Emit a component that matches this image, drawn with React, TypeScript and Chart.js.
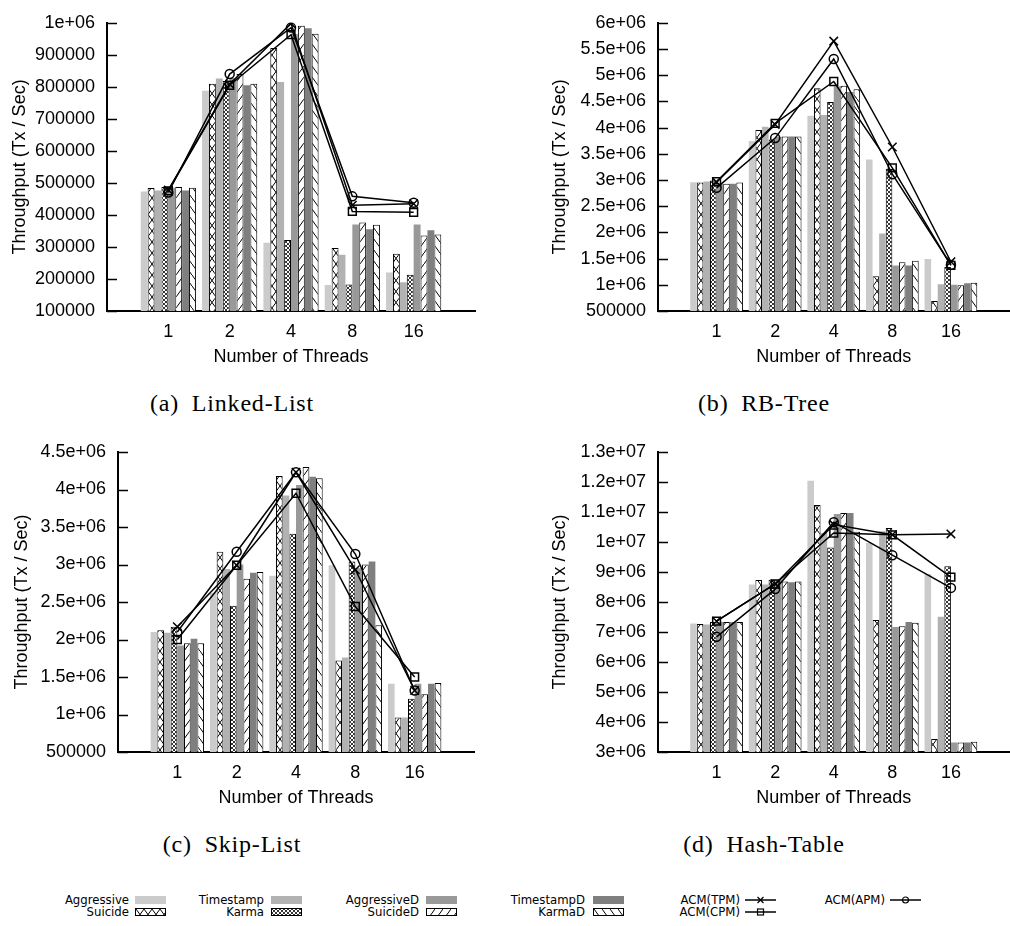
import React, { useEffect, useRef } from 'react';
import { Chart, registerables } from 'chart.js';
Chart.register(...registerables);

const FONT = "'Liberation Sans', Arial, Helvetica, sans-serif";
const NARROW = "'Liberation Sans Narrow', 'DejaVu Sans Condensed', 'Liberation Sans', sans-serif";
const SERIF = "'Liberation Serif', 'Times New Roman', serif";

const threadLabels = ['1', '2', '4', '8', '16'];
const threadIndex = [0, 1, 2, 3, 4];

const seriesNames = ['Aggressive', 'Suicide', 'Timestamp', 'Karma', 'AggressiveD', 'SuicideD', 'TimestampD', 'KarmaD'];
const lineNames = ['ACM(TPM)', 'ACM(CPM)', 'ACM(APM)'];

// (a) Linked-List
const llAggressive = [473000, 788000, 313000, 181000, 220000];
const llSuicide = [484000, 810000, 921000, 297000, 279000];
const llTimestamp = [476000, 826000, 815000, 276000, 190000];
const llKarma = [487000, 818000, 322000, 183000, 213000];
const llAggressiveD = [485000, 828000, 965000, 370000, 370000];
const llSuicideD = [487000, 840000, 991000, 376000, 336000];
const llTimestampD = [476000, 805000, 983000, 355000, 352000];
const llKarmaD = [485000, 810000, 966000, 369000, 339000];
const llTPM = [478000, 808000, 998000, 430000, 435000];
const llCPM = [475000, 805000, 963000, 411000, 408000];
const llAPM = [470000, 840000, 985000, 458000, 438000];
const llTicks = [100000, 200000, 300000, 400000, 500000, 600000, 700000, 800000, 900000, 1000000];

// (b) RB-Tree
const rbAggressive = [2958000, 3742000, 4225000, 3390000, 1490000];
const rbSuicide = [2950000, 3956000, 4750000, 1165000, 690000];
const rbTimestamp = [2970000, 4017000, 4240000, 1980000, 1010000];
const rbKarma = [2990000, 3772000, 4490000, 3215000, 1340000];
const rbAggressiveD = [2930000, 3827000, 4790000, 1370000, 1000000];
const rbSuicideD = [2930000, 3830000, 4800000, 1430000, 990000];
const rbTimestampD = [2930000, 3830000, 4680000, 1370000, 1030000];
const rbKarmaD = [2950000, 3830000, 4730000, 1460000, 1040000];
const rbTPM = [2960000, 4060000, 5650000, 3630000, 1440000];
const rbCPM = [2970000, 4080000, 4880000, 3230000, 1370000];
const rbAPM = [2850000, 3800000, 5310000, 3110000, 1380000];
const rbTicks = [500000, 1000000, 1500000, 2000000, 2500000, 3000000, 3500000, 4000000, 4500000, 5000000, 5500000, 6000000];

// (c) Skip-List
const slAggressive = [2100000, 2620000, 2850000, 2990000, 1410000];
const slSuicide = [2125000, 3170000, 4180000, 1720000, 960000];
const slTimestamp = [2090000, 2940000, 3920000, 1760000, 960000];
const slKarma = [2170000, 2450000, 3410000, 3040000, 1210000];
const slAggressiveD = [1920000, 3000000, 4060000, 2950000, 1410000];
const slSuicideD = [1950000, 2810000, 4300000, 3000000, 1270000];
const slTimestampD = [2010000, 2890000, 4170000, 3040000, 1410000];
const slKarmaD = [1950000, 2900000, 4150000, 2190000, 1420000];
const slTPM = [2170000, 2990000, 4230000, 2930000, 1320000];
const slCPM = [2000000, 2990000, 3950000, 2440000, 1500000];
const slAPM = [2100000, 3170000, 4230000, 3140000, 1320000];
const slTicks = [500000, 1000000, 1500000, 2000000, 2500000, 3000000, 3500000, 4000000, 4500000];

// (d) Hash-Table
const htAggressive = [7280000, 8580000, 12040000, 9970000, 8930000];
const htSuicide = [7270000, 8730000, 11230000, 7400000, 3430000];
const htTimestamp = [7250000, 8580000, 10300000, 10360000, 7510000];
const htKarma = [7330000, 8740000, 9820000, 10470000, 9190000];
const htAggressiveD = [7330000, 8740000, 10930000, 7170000, 3320000];
const htSuicideD = [7330000, 8680000, 10970000, 7190000, 3320000];
const htTimestampD = [7330000, 8660000, 10970000, 7330000, 3320000];
const htKarmaD = [7330000, 8680000, 10340000, 7310000, 3340000];
const htTPM = [7360000, 8600000, 10580000, 10240000, 10270000];
const htCPM = [7360000, 8600000, 10300000, 10240000, 8830000];
const htAPM = [6840000, 8430000, 10660000, 9560000, 8470000];
const htTicks = [3000000, 4000000, 5000000, 6000000, 7000000, 8000000, 9000000, 10000000, 11000000, 12000000, 13000000];

type Kind = { fill?: string; pattern?: string };
const barKinds: Kind[] = [
  { fill: '#cbcbcb' },
  { pattern: 'suicide' },
  { fill: '#b2b2b2' },
  { pattern: 'karma' },
  { fill: '#999999' },
  { pattern: 'slash' },
  { fill: '#7f7f7f' },
  { pattern: 'backslash' },
];
const lineMarkers = ['crossRot', 'rect', 'circle'];
const lineRadii = [6, 5.5, 4.5];

function makeTile(kind: string): HTMLCanvasElement {
  const c = document.createElement('canvas');
  let w = 8, h = 11;
  if (kind === 'karma') { w = 4; h = 4; }
  c.width = w; c.height = h;
  const g = c.getContext('2d')!;
  g.fillStyle = '#fff';
  g.fillRect(0, 0, w, h);
  g.strokeStyle = '#000';
  g.lineWidth = kind === 'karma' ? 0.8 : 1;
  g.beginPath();
  if (kind === 'suicide' || kind === 'karma') {
    g.moveTo(0, 0); g.lineTo(w, h); g.moveTo(w, 0); g.lineTo(0, h);
  } else if (kind === 'slash') {
    g.moveTo(0, h); g.lineTo(w, 0);
  } else {
    g.moveTo(0, 0); g.lineTo(w, h);
  }
  g.stroke();
  return c;
}

const tileCache: Record<string, HTMLCanvasElement> = {};
function tile(kind: string) {
  if (!tileCache[kind]) tileCache[kind] = makeTile(kind);
  return tileCache[kind];
}

function fmtTick(v: number): string {
  const r = Math.round(v);
  if (r >= 1000000) {
    const e = Math.floor(Math.log10(r) + 1e-9);
    const m = Math.round((r / Math.pow(10, e)) * 100) / 100;
    return `${m}e+${String(e).padStart(2, '0')}`;
  }
  return String(r);
}

type PanelCfg = {
  bars: number[][];
  lines: number[][];
  ticks: number[];
  box: { left: number; top: number; width: number; height: number };
  area: { left: number; right: number; top: number; bottom: number };
  yTitleCenter: number;
};

const X_AXIS_H = 57;

const panels: PanelCfg[] = [
  {
    bars: [llAggressive, llSuicide, llTimestamp, llKarma, llAggressiveD, llSuicideD, llTimestampD, llKarmaD],
    lines: [llTPM, llCPM, llAPM],
    ticks: llTicks,
    box: { left: 0, top: 0, width: 505, height: 380 },
    area: { left: 107, right: 475, top: 12, bottom: 311 },
    yTitleCenter: 20,
  },
  {
    bars: [rbAggressive, rbSuicide, rbTimestamp, rbKarma, rbAggressiveD, rbSuicideD, rbTimestampD, rbKarmaD],
    lines: [rbTPM, rbCPM, rbAPM],
    ticks: rbTicks,
    box: { left: 505, top: 0, width: 512, height: 380 },
    area: { left: 658, right: 1012, top: 11, bottom: 311 },
    yTitleCenter: 560,
  },
  {
    bars: [slAggressive, slSuicide, slTimestamp, slKarma, slAggressiveD, slSuicideD, slTimestampD, slKarmaD],
    lines: [slTPM, slCPM, slAPM],
    ticks: slTicks,
    box: { left: 0, top: 420, width: 505, height: 400 },
    area: { left: 118, right: 474, top: 452, bottom: 752 },
    yTitleCenter: 22,
  },
  {
    bars: [htAggressive, htSuicide, htTimestamp, htKarma, htAggressiveD, htSuicideD, htTimestampD, htKarmaD],
    lines: [htTPM, htCPM, htAPM],
    ticks: htTicks,
    box: { left: 505, top: 420, width: 512, height: 400 },
    area: { left: 658, right: 1012, top: 452, bottom: 752 },
    yTitleCenter: 560,
  },
];

const inwardTicks = {
  id: 'inwardTicks',
  afterDraw(chart: any) {
    const y = chart.scales.y;
    const ctx = chart.ctx;
    const left = chart.chartArea.left;
    ctx.save();
    ctx.strokeStyle = '#000';
    ctx.lineWidth = 1.5;
    y.ticks.forEach((t: any) => {
      const py = Math.round(y.getPixelForValue(t.value)) + 0.5;
      ctx.beginPath();
      ctx.moveTo(left, py);
      ctx.lineTo(left + 10, py);
      ctx.stroke();
    });
    ctx.restore();
  },
};

function Panel({ cfg }: { cfg: PanelCfg }) {
  const ref = useRef<HTMLCanvasElement>(null);
  useEffect(() => {
    const canvas = ref.current!;
    const ctx = canvas.getContext('2d')!;
    const { box, area } = cfg;
    const yW = area.left - box.left;
    const padTop = area.top - box.top;
    const padRight = box.left + box.width - area.right;
    const padBottom = box.top + box.height - area.bottom - X_AXIS_H;
    const yTitlePad = cfg.yTitleCenter - box.left - 10.8;

    const barSets = cfg.bars.map((vals, k) => {
      const kind = barKinds[k];
      const bg = kind.pattern ? (ctx.createPattern(tile(kind.pattern), 'repeat') as any) : kind.fill;
      return {
        type: 'bar' as const,
        label: seriesNames[k],
        data: vals.map((v, i) => ({ x: threadIndex[i], y: v })),
        backgroundColor: bg,
        borderColor: '#000',
        borderWidth: kind.pattern ? 1 : 0,
        categoryPercentage: 0.9,
        barPercentage: 1.0,
        order: 2,
      };
    });
    const lineSets = cfg.lines.map((vals, k) => ({
      type: 'line' as const,
      label: lineNames[k],
      data: vals.map((v, i) => ({ x: threadIndex[i], y: v })),
      borderColor: '#000',
      borderWidth: 1.5,
      pointStyle: lineMarkers[k],
      pointRadius: lineRadii[k],
      pointBorderWidth: 1.5,
      pointBorderColor: '#000',
      pointBackgroundColor: 'rgba(0,0,0,0)',
      fill: false,
      tension: 0,
      order: 1,
    }));

    const tickFont = { size: 18, family: FONT };
    const chart = new Chart(canvas, {
      type: 'bar',
      data: { datasets: [...barSets, ...lineSets] as any },
      options: {
        responsive: false,
        animation: false,
        devicePixelRatio: 1,
        events: [],
        layout: { padding: { left: 0, top: padTop, right: padRight, bottom: padBottom } },
        plugins: { legend: { display: false }, tooltip: { enabled: false } },
        scales: {
          x: {
            type: 'linear',
            min: -1,
            max: 5,
            offset: false,
            grid: { display: true, drawOnChartArea: false, drawTicks: false },
            border: { display: true, color: '#000', width: 2 },
            ticks: {
              font: tickFont,
              color: '#000',
              padding: 10,
              autoSkip: false,
              maxRotation: 0,
              callback: (v: any) => threadLabels[Math.round(Number(v))] ?? '',
            },
            afterBuildTicks: (s: any) => {
              s.ticks = threadIndex.map((v) => ({ value: v }));
            },
            afterFit: (s: any) => {
              s.height = X_AXIS_H;
            },
            title: { display: true, text: 'Number of Threads', font: tickFont, color: '#000', padding: 0 },
          },
          y: {
            type: 'linear',
            min: cfg.ticks[0],
            max: cfg.ticks[cfg.ticks.length - 1],
            grid: { display: true, drawOnChartArea: false, drawTicks: false },
            border: { display: true, color: '#000', width: 2 },
            ticks: {
              font: tickFont,
              color: '#000',
              padding: 12,
              autoSkip: false,
              callback: (v: any) => fmtTick(Number(v)),
            },
            afterBuildTicks: (s: any) => {
              s.ticks = cfg.ticks.map((v) => ({ value: v }));
            },
            afterFit: (s: any) => {
              s.width = yW;
            },
            title: {
              display: true,
              text: 'Throughput (Tx / Sec)',
              font: tickFont,
              color: '#000',
              padding: { top: yTitlePad, bottom: 0 },
            },
          },
        },
      } as any,
      plugins: [inwardTicks],
    });
    return () => chart.destroy();
  }, []);
  const { box } = cfg;
  return (
    <canvas
      ref={ref}
      width={box.width}
      height={box.height}
      style={{ position: 'absolute', left: box.left, top: box.top, width: box.width, height: box.height }}
    />
  );
}

const captions = [
  { text: '(a)\u2002Linked-List', cx: 232, cy: 403 },
  { text: '(b)\u2002RB-Tree', cx: 764, cy: 403 },
  { text: '(c)\u2002Skip-List', cx: 232, cy: 844 },
  { text: '(d)\u2002Hash-Table', cx: 764, cy: 844 },
];

const legendCols = [
  { right: 129, sw: 135 },
  { right: 264, sw: 271 },
  { right: 419, sw: 426 },
  { right: 585, sw: 593 },
  { right: 740, sw: 745 },
  { right: 885, sw: 890 },
];
const legendRows = [900, 912];
const SW_W = 31;

function Swatch({ k, x, y }: { k: number; x: number; y: number }) {
  const kind = barKinds[k];
  const style: any = {
    position: 'absolute',
    left: x,
    top: y - 4,
    width: SW_W,
    height: 8,
    boxSizing: 'border-box',
  };
  if (kind.pattern) {
    style.backgroundImage = `url(${tile(kind.pattern).toDataURL()})`;
    style.backgroundRepeat = 'repeat';
    style.border = '1px solid #000';
  } else {
    style.background = kind.fill;
  }
  return <div style={style} />;
}

function LineSym({ k, x, y }: { k: number; x: number; y: number }) {
  const cx = SW_W / 2;
  let marker: any = null;
  if (k === 0) {
    marker = (
      <g stroke="#000" strokeWidth={1.2}>
        <line x1={cx - 3} y1={3} x2={cx + 3} y2={9} />
        <line x1={cx + 3} y1={3} x2={cx - 3} y2={9} />
      </g>
    );
  } else if (k === 1) {
    marker = <rect x={cx - 3} y={3} width={6} height={6} fill="none" stroke="#000" strokeWidth={1.2} />;
  } else {
    marker = <circle cx={cx} cy={6} r={3} fill="none" stroke="#000" strokeWidth={1.2} />;
  }
  return (
    <svg width={SW_W} height={12} style={{ position: 'absolute', left: x, top: y - 6 }}>
      <line x1={0} y1={6} x2={SW_W} y2={6} stroke="#000" strokeWidth={1.5} />
      {marker}
    </svg>
  );
}

const legendText = (right: number, y: number): any => ({
  position: 'absolute',
  left: right - 120,
  width: 120,
  top: y - 7,
  height: 14,
  lineHeight: '14px',
  textAlign: 'right',
  fontFamily: NARROW,
  fontSize: 13,
  color: '#000',
});

function Legend() {
  const items: any[] = [];
  seriesNames.forEach((name, k) => {
    const col = legendCols[Math.floor(k / 2)];
    const y = legendRows[k % 2];
    items.push(
      <div key={'t' + k} style={legendText(col.right, y)}>
        {name}
      </div>
    );
    items.push(<Swatch key={'s' + k} k={k} x={col.sw} y={y} />);
  });
  const linePos = [
    { c: 4, r: 0 },
    { c: 4, r: 1 },
    { c: 5, r: 0 },
  ];
  lineNames.forEach((name, k) => {
    const col = legendCols[linePos[k].c];
    const y = legendRows[linePos[k].r];
    items.push(
      <div key={'lt' + k} style={legendText(col.right, y)}>
        {name}
      </div>
    );
    items.push(<LineSym key={'ls' + k} k={k} x={col.sw} y={y} />);
  });
  return <>{items}</>;
}

export default function App() {
  return (
    <div style={{ position: 'absolute', left: 0, top: 0, width: 1010, height: 926, overflow: 'hidden', background: '#fff' }}>
      {panels.map((p, i) => (
        <Panel key={i} cfg={p} />
      ))}
      {captions.map((c, i) => (
        <div
          key={'c' + i}
          style={{ position: 'absolute', left: c.cx - 150, width: 300, top: c.cy - 14, height: 28, lineHeight: '28px', textAlign: 'center', fontFamily: SERIF, fontSize: 24, letterSpacing: '0.8px', color: '#000', whiteSpace: 'nowrap' }}
        >
          {c.text}
        </div>
      ))}
      <Legend />
    </div>
  );
}
